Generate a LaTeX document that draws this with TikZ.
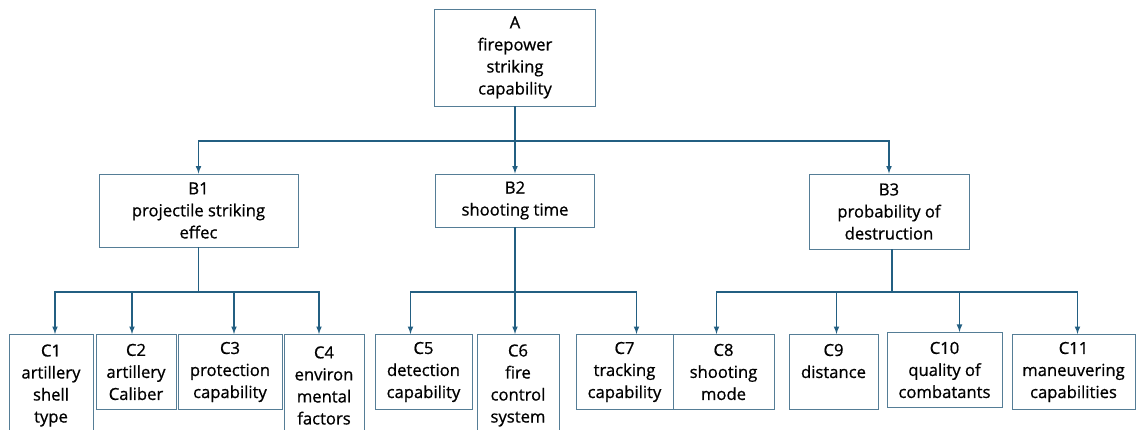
\documentclass[tikz,border=0pt]{standalone}
\usepackage{fontspec}
\setmainfont{Open Sans}[FakeBold=0.8]
\usetikzlibrary{
	calc
}

\definecolor{boxcol}{RGB}{85,125,150}
\definecolor{linecol}{RGB}{35,95,130}
\newcommand{\un}{0.03cm}

\begin{document}
\begin{tikzpicture}[
	>=latex,
	x=\un, y=-\un,
	box/.style={draw=boxcol, line width=0.8pt, align=center, inner xsep=2pt, inner ysep=3.5pt, font=\fontsize{14.2}{18.8}\selectfont},
	leaf/.style={box, anchor=north, minimum height=75*\un},
	tall/.style={leaf, minimum height=102*\un},
	link/.style={draw=linecol, line width=1.2pt}
]
	\useasboundingbox (0,0) rectangle (1136,430);

	% goal
	\node(A)[box, minimum width=161*\un, minimum height=97*\un] at (515,57.5) {A\\firepower\\striking\\capability};

	% criteria
	\node(B1)[box, minimum width=199*\un, minimum height=73*\un] at (198.5,210.5) {B1\\projectile striking\\effec};
	\node(B2)[box, minimum width=159*\un, minimum height=53*\un] at (515,200.5) {B2\\shooting time};
	\node(B3)[box, minimum width=160*\un, minimum height=75*\un] at (889,211.5) {B3\\probability of\\destruction};

	% indicators
	\node(C1)[tall, minimum width=84*\un] at (51,334) {C1\\artillery\\shell\\type};
	\node(C2)[leaf, minimum width=80*\un] at (136,334) {C2\\artillery\\Caliber};
	\node(C3)[leaf, minimum width=104*\un] at (230,334) {C3\\protection\\capability};
	\node(C4)[tall, minimum width=80*\un] at (324,334) {C4\\environ\\mental\\factors};
	\node(C5)[leaf, minimum width=97*\un] at (423.5,334) {C5\\detection\\capability};
	\node(C6)[tall, minimum width=82*\un] at (518,334) {C6\\fire\\control\\system};
	\node(C7)[leaf, minimum width=97*\un] at (624.5,334) {C7\\tracking\\capability};
	\node(C8)[leaf, minimum width=101*\un] at (723.5,334) {C8\\shooting\\mode};
	\node(C9)[leaf, minimum width=89*\un] at (833.5,334) {C9\\distance\\\mbox{}};
	\node(C10)[leaf, minimum width=115*\un] at (944.5,332) {C10\\quality of\\combatants};
	\node(C11)[leaf, minimum width=123*\un] at (1073.5,334) {C11\\maneuvering\\capabilities};

	\coordinate (busA) at (515,141);
	\coordinate (busB1) at (198.5,292);
	\coordinate (busB2) at (515,292);
	\coordinate (busB3) at (892,292);

	\draw[link] (A.south) -- (busA);
	\draw[link,->] (busA) -| (B1.north);
	\draw[link,->] (busA) -- (B2.north);
	\draw[link,->] (busA) -| (B3.north);

	\draw[link] (B1.south) -- (busB1);
	\draw[link,->] (busB1) -| ([xshift=4*\un]C1.north);
	\draw[link,->] (busB1) -| ([xshift=-4*\un]C2.north);
	\draw[link,->] (busB1) -| ([xshift=4*\un]C3.north);
	\draw[link,->] (busB1) -| ([xshift=-5*\un]C4.north);

	\draw[link] (B2.south) -- (busB2);
	\draw[link,->] (busB2) -| ([xshift=-13*\un]C5.north);
	\draw[link,->] (busB2) -| ([xshift=-3*\un]C6.north);
	\draw[link,->] (busB2) -| ([xshift=12*\un]C7.north);

	\draw[link] ($(B3.south)+(3,0)$) -- (busB3);
	\draw[link,->] (busB3) -| ([xshift=-7*\un]C8.north);
	\draw[link,->] (busB3) -| ([xshift=3*\un]C9.north);
	\draw[link,->] (busB3) -| ([xshift=15*\un]C10.north);
	\draw[link,->] (busB3) -| ([xshift=4*\un]C11.north);
\end{tikzpicture}
\end{document}
